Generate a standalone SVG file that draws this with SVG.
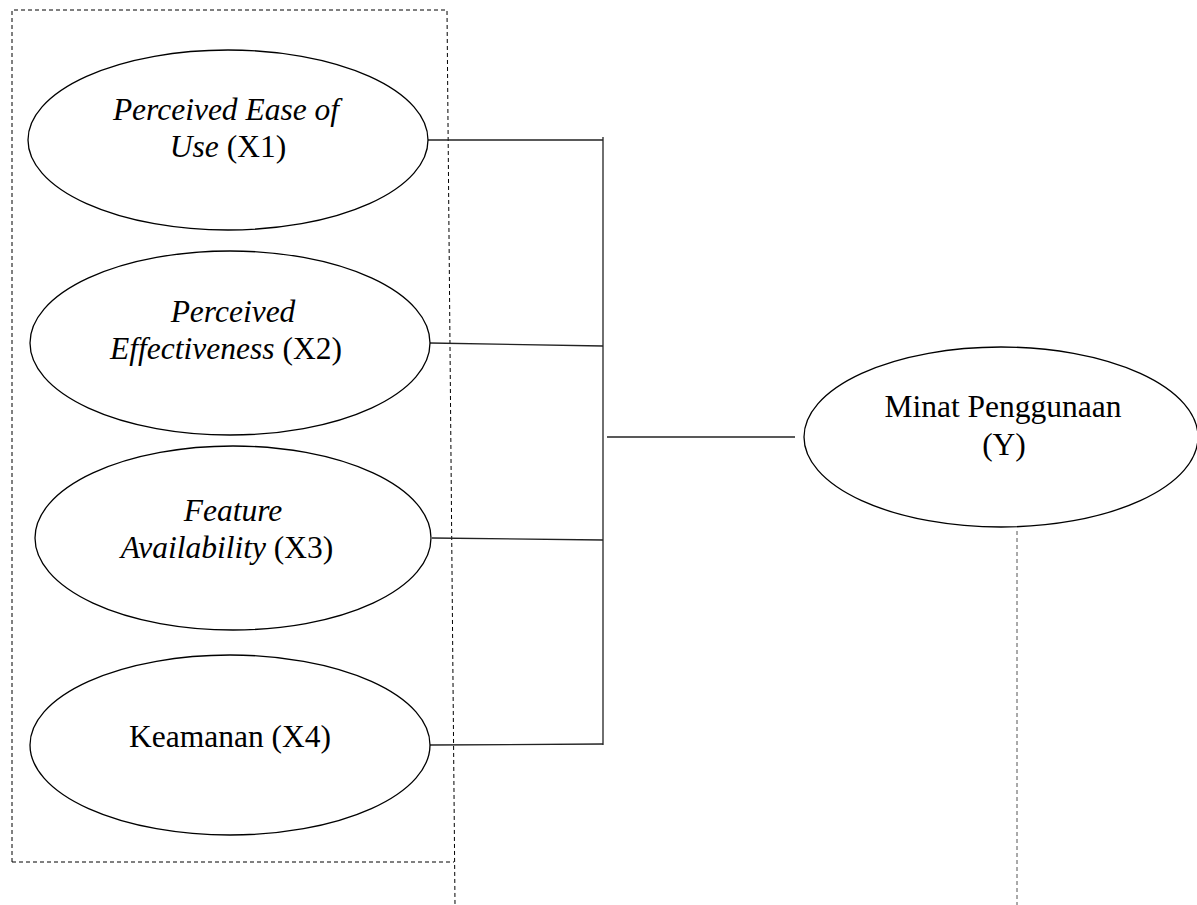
<svg xmlns="http://www.w3.org/2000/svg" width="1197" height="905" viewBox="0 0 1197 905">
<style>
.node ellipse{fill:#fff;stroke:#000;stroke-width:1.3}
.t{font-family:"Liberation Serif","Times New Roman",serif;font-size:31.5px;fill:#000;text-anchor:middle}
.i{font-style:italic}
.dash{fill:none;stroke:#000;stroke-width:1;stroke-dasharray:4 3}
.conn line{stroke:#222;stroke-width:1.3}
</style>
<rect width="1197" height="905" fill="#fff"/>
<g id="frame">
<polyline class="dash" points="12,862 12,10 447,10 455,905"/>
<line class="dash" x1="12" y1="862" x2="454" y2="862"/>
<line class="dash" x1="1017" y1="531" x2="1017" y2="905" style="stroke:#555"/>
</g>
<g class="conn" id="connectors">
<line x1="428" y1="140" x2="603" y2="140"/>
<line x1="430" y1="343" x2="603" y2="346"/>
<line x1="432" y1="538" x2="603" y2="540"/>
<line x1="430" y1="745" x2="603" y2="744"/>
<line x1="603" y1="137" x2="603" y2="745"/>
<line x1="607" y1="437" x2="795" y2="437"/>
</g>
<g class="node" id="x1">
<ellipse cx="228" cy="140" rx="200" ry="90"/>
<text class="t i" x="226" y="120">Perceived Ease of</text>
<text class="t" x="228" y="157"><tspan class="i">Use</tspan> (X1)</text>
</g>
<g class="node" id="x2">
<ellipse cx="230" cy="343" rx="200" ry="92"/>
<text class="t i" x="233" y="322">Perceived</text>
<text class="t" x="226" y="359"><tspan class="i">Effectiveness</tspan> (X2)</text>
</g>
<g class="node" id="x3">
<ellipse cx="233" cy="538" rx="198" ry="92"/>
<text class="t i" x="233" y="521">Feature</text>
<text class="t" x="227" y="558"><tspan class="i">Availability</tspan> (X3)</text>
</g>
<g class="node" id="x4">
<ellipse cx="230" cy="745" rx="200" ry="90"/>
<text class="t" x="230" y="747">Keamanan (X4)</text>
</g>
<g class="node" id="y">
<ellipse cx="1001" cy="437" rx="197" ry="90"/>
<text class="t" x="1003" y="417">Minat Penggunaan</text>
<text class="t" x="1004" y="455">(Y)</text>
</g>
</svg>
